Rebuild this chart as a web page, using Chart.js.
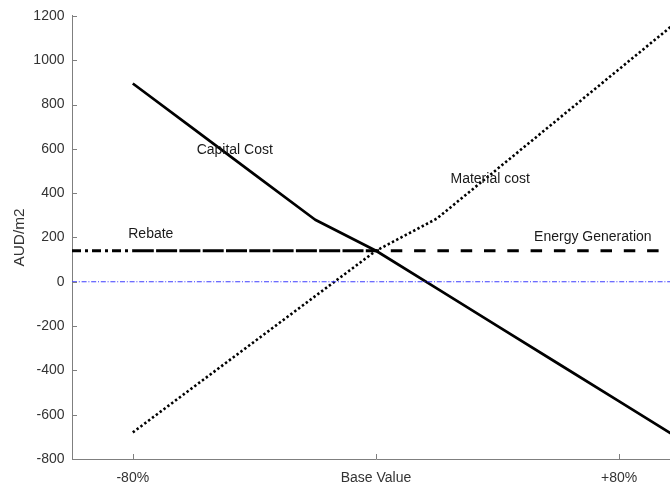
<!DOCTYPE html>
<html>
<head>
<meta charset="utf-8">
<script src="https://cdn.jsdelivr.net/npm/chart.js@4/dist/chart.umd.min.js"></script>
<style>
  html, body { margin: 0; padding: 0; background: #fff; overflow: hidden; }
  #wrap { width: 680px; height: 489px; position: relative; }
</style>
</head>
<body>
<div id="wrap"><canvas id="c"></canvas></div>
<script>
// Sensitivity of each cost component (AUD/m2) to a percentage change in its input
const steps = [-80, -60, -40, -20, 0, 20, 40, 60, 80, 100];
const capitalCost = [895, 690, 485, 280, 140, -30, -200, -370, -540, -710];
const materialCost = [-680, -475, -270, -65, 140, 285, 510, 735, 960, 1185];

const rebateSteps = [-100, -80, -60, -40, -20, 0];
const rebate = [140, 140, 140, 140, 140, 140];

const energySteps = [0, 20, 40, 60, 80, 100];
const energyGeneration = [140, 140, 140, 140, 140, 140];

const zeroSteps = [-100, 100];
const zeroLine = [0, 0];

const xTickValues = [-80, 0, 80];
const xTickLabels = ['-80%', 'Base Value', '+80%'];

// In-plot labels, anchored in data units
const noteTexts = ['Capital Cost', 'Material cost', 'Rebate', 'Energy Generation'];
const noteX = [-59, 24.5, -81.5, 52];
const noteY = [595, 465, 215, 202];

const pts = (xs, ys) => xs.map((x, i) => ({ x, y: ys[i] }));

const FONT = "'Liberation Sans', Arial, Helvetica, sans-serif";
Chart.defaults.font.family = FONT;
Chart.defaults.font.size = 14;

const AXIS = '#7f7f7f';

// Short tick marks drawn inward from the axis lines
const inwardTicks = {
  id: 'inwardTicks',
  afterDraw(chart) {
    const { ctx, chartArea: a, scales: { x, y } } = chart;
    ctx.save();
    ctx.strokeStyle = AXIS;
    ctx.lineWidth = 1;
    ctx.beginPath();
    y.ticks.forEach(t => {
      const py = Math.round(y.getPixelForValue(t.value)) + 0.5;
      ctx.moveTo(a.left, py);
      ctx.lineTo(a.left + 5, py);
    });
    x.ticks.forEach(t => {
      const px = Math.round(x.getPixelForValue(t.value)) + 0.5;
      ctx.moveTo(px, a.bottom);
      ctx.lineTo(px, a.bottom - 5);
    });
    ctx.stroke();
    ctx.restore();
  }
};

// Series names written next to their lines
const seriesNotes = {
  id: 'seriesNotes',
  afterDatasetsDraw(chart) {
    const { ctx, scales: { x, y } } = chart;
    ctx.save();
    ctx.font = '14px ' + FONT;
    ctx.fillStyle = '#1a1a1a';
    ctx.textAlign = 'left';
    ctx.textBaseline = 'middle';
    noteTexts.forEach((t, i) => {
      ctx.fillText(t, x.getPixelForValue(noteX[i]), y.getPixelForValue(noteY[i]));
    });
    ctx.restore();
  }
};

new Chart(document.getElementById('c'), {
  type: 'line',
  data: {
    datasets: [
      {
        label: 'Zero',
        data: pts(zeroSteps, zeroLine),
        borderColor: '#3c3cff',
        borderWidth: 1,
        borderDash: [5, 1.8, 1, 1.8]
      },
      {
        label: 'Rebate',
        data: pts(rebateSteps, rebate),
        borderColor: '#000',
        borderWidth: 3,
        segment: {
          borderDash: ctx => ctx.p0DataIndex === 0 ? [9, 4, 3, 4] : [21, 2.3]
        }
      },
      {
        label: 'Energy Generation',
        data: pts(energySteps, energyGeneration),
        borderColor: '#000',
        borderWidth: 3,
        borderDash: [11.5, 11.8],
        borderDashOffset: 8.5
      },
      {
        label: 'Material cost',
        data: pts(steps, materialCost),
        borderColor: '#000',
        borderWidth: 2.6,
        borderDash: [2.4, 2.4]
      },
      {
        label: 'Capital Cost',
        data: pts(steps, capitalCost),
        borderColor: '#000',
        borderWidth: 2.7
      }
    ]
  },
  options: {
    responsive: true,
    maintainAspectRatio: false,
    animation: false,
    layout: { padding: { left: 0, right: 0, top: 12, bottom: 0 } },
    elements: {
      point: { radius: 0, hoverRadius: 0 },
      line: { tension: 0, borderCapStyle: 'butt', borderJoinStyle: 'round', fill: false }
    },
    plugins: {
      legend: { display: false },
      tooltip: { enabled: false }
    },
    scales: {
      x: {
        type: 'linear',
        min: -100,
        max: 100,
        afterBuildTicks: scale => { scale.ticks = xTickValues.map(v => ({ value: v })); },
        afterFit: scale => { scale.height = 30; },
        grid: { display: false, drawTicks: false },
        border: { display: true, color: AXIS, width: 1 },
        ticks: {
          color: '#333',
          padding: 10.5,
          maxRotation: 0,
          autoSkip: false,
          callback: (v, i) => xTickLabels[i]
        }
      },
      y: {
        type: 'linear',
        min: -800,
        max: 1200,
        afterFit: scale => { scale.width = 72; },
        grid: { display: false, drawTicks: false },
        border: { display: true, color: AXIS, width: 1 },
        ticks: { color: '#333', padding: 7.5, stepSize: 200, callback: v => String(v) },
        title: {
          display: true,
          text: 'AUD/m2',
          color: '#333',
          font: { size: 15.4 },
          padding: { top: 11, bottom: 0 }
        }
      }
    }
  },
  plugins: [inwardTicks, seriesNotes]
});
</script>
</body>
</html>
